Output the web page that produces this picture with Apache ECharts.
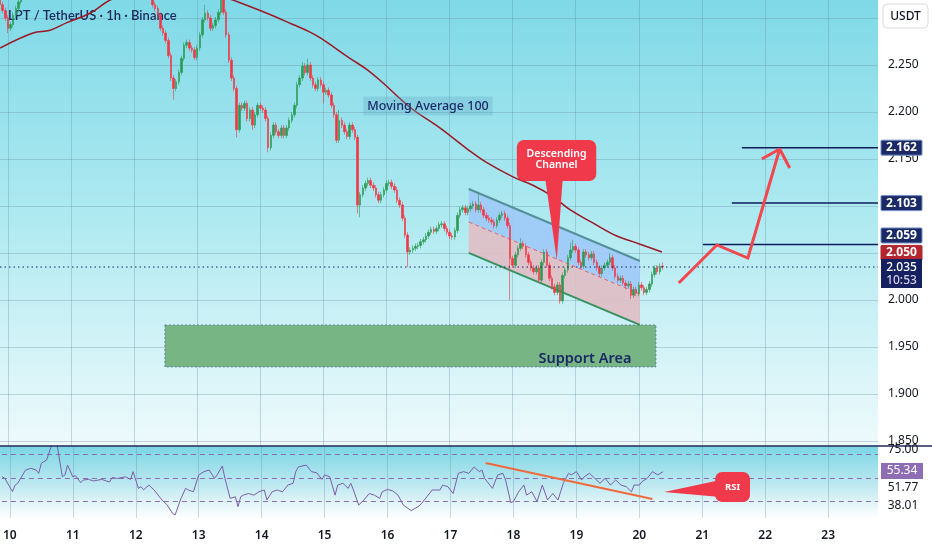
<!DOCTYPE html>
<html><head><meta charset="utf-8">
<script src="https://cdn.jsdelivr.net/npm/echarts@6/dist/echarts.min.js"></script>
<style>html,body{margin:0;padding:0;background:#fff}#c{width:932px;height:550px}</style>
</head><body><div id="c"></div>
<script>
// ---- axes ----
const hourMin = -3.04, hourMax = 331;
const priceMin = 1.8446, priceMax = 2.3191;
const rsiMin = 15.96, rsiMax = 77.23;
const dayTicks = [0,24,48,72,96,120,144,168,192,216,240,264,288,312];
const dayLabels = ['10','11','12','13','14','15','16','17','18','19','20','21','22','23'];
const priceTicks = [1.85,1.90,1.95,2.00,2.05,2.10,2.15,2.20,2.25];
const gridPrices = [1.85,1.90,1.95,2.00,2.05,2.10,2.15,2.20,2.25,2.30];
const rsiLevels = [70,50,30];

// ---- candles (1h, first candle at hour -3 of day 10) ----
const firstHour = -3;
const firstOpen = 2.324;
const closes = [
 2.314,2.308,2.300,2.289,2.293,2.303,2.310,2.317,
 2.327,2.335,2.342,2.350,2.362,2.375,2.385,2.392,2.380,2.372,
 2.378,2.386,2.390,2.384,2.376,2.370,2.368,2.372,2.375,2.370,
 2.365,2.360,2.358,2.362,2.366,2.360,2.355,2.352,2.348,2.345,
 2.350,2.354,2.350,2.346,2.342,2.338,2.344,2.348,2.352,2.356,
 2.350,2.344,2.340,2.336,2.340,2.344,2.338,2.332,2.326,2.324,
 2.314,2.310,2.303,2.289,2.284,2.276,2.260,2.236,2.225,2.232,
 2.242,2.257,2.271,2.274,2.268,2.266,2.258,2.268,2.282,2.298,
 2.305,2.300,2.289,2.292,2.298,2.306,2.321,2.306,2.282,2.255,
 2.236,2.225,2.181,2.207,2.204,2.209,2.193,2.202,2.186,2.197,
 2.207,2.204,2.202,2.193,2.162,2.175,2.186,2.179,2.175,2.183,
 2.175,2.183,2.191,2.197,2.207,2.229,2.236,2.249,2.242,2.250,
 2.236,2.229,2.225,2.234,2.229,2.221,2.223,2.218,2.207,2.197,
 2.170,2.191,2.186,2.179,2.174,2.186,2.181,2.173,2.101,2.112,
 2.119,2.124,2.127,2.122,2.119,2.112,2.106,2.112,2.117,2.124,
 2.125,2.121,2.117,2.106,2.101,2.087,2.069,2.051,2.053,2.055,
 2.057,2.058,2.062,2.064,2.068,2.072,2.075,2.073,2.076,2.080,
 2.081,2.076,2.072,2.068,2.067,2.074,2.090,2.096,2.098,2.093,
 2.097,2.100,2.102,2.096,2.101,2.096,2.090,2.087,2.085,2.083,
 2.079,2.085,2.090,2.092,2.087,2.079,2.044,2.037,2.048,2.055,
 2.060,2.057,2.048,2.040,2.034,2.030,2.034,2.021,2.040,2.051,
 2.037,2.023,2.014,2.008,2.016,1.999,2.026,2.032,2.045,2.053,
 2.057,2.053,2.040,2.036,2.051,2.048,2.045,2.049,2.040,2.034,
 2.028,2.034,2.037,2.040,2.045,2.034,2.025,2.021,2.023,2.018,
 2.015,2.017,2.005,2.011,2.007,2.016,2.013,2.008,2.011,2.017,
 2.027,2.034,2.030,2.036,2.035
];
const wickSize = 0.003;
const highHours = [75,112,114,126,179,195,214,215,229,249];
const highValues = [2.314,2.253,2.257,2.202,2.115,2.066,2.061,2.064,2.050,2.040];
const lowHours = [0,63,87,93,99,120,133,134,152,191,210,237];
const lowValues = [2.284,2.213,2.173,2.181,2.157,2.209,2.092,2.088,2.035,2.000,1.996,2.001];

// ---- moving average 100 ----
const maHours = [-3,9.5,16,22.4,31.2,38.8,50,62,74,85.6,98.5,108.4,114.9,118.7,130.1,136.6,142.6,152.9,164.3,175,182.2,192.1,199.7,207.3,213.8,222.5,231.6,237.7,248.8];
const maValues = [2.268,2.284,2.287,2.295,2.305,2.319,2.331,2.336,2.331,2.319,2.305,2.293,2.285,2.279,2.257,2.245,2.231,2.205,2.183,2.160,2.146,2.131,2.122,2.110,2.096,2.082,2.068,2.062,2.051];

// ---- RSI ----
const rsiHours = [
 -3,-2,1,2,3,6,8,10,11,12,
 14,16,18,20,21,22,24,25,27,28,
 30,32,35,38,39,41,44,46,47,49,
 50,51,53,55,58,60,62,63,65,67,
 68,70,72,74,76,78,79,81,82,84,
 86,87,88,89,91,93,95,97,98,100,
 102,104,106,108,109,110,113,115,117,119,
 120,122,124,125,127,129,130,131,133,135,
 137,139,141,142,144,146,148,150,153,156,
 157,159,161,164,165,167,169,171,173,175,
 177,179,180,181,184,186,188,189,191,192,
 194,196,197,199,201,203,205,207,209,211,
 213,214,216,218,219,221,223,225,227,229,
 231,233,235,237,238,240,241,243,245,247,
 249];
const rsiValues = [
 51,50,38.4,44,45.5,56.8,58.2,56.8,54,62.5,
 65.3,78.5,78.5,51.1,52.6,61,51,52,46,48.3,
 48.8,47.5,48.8,46.6,50.4,49.6,51,48.8,55.4,41.2,
 42.6,40,44,39.8,31.3,27,20,18.5,31.3,41.2,
 39.8,38.3,52.6,55.4,56.8,49.7,52.6,60.2,49.7,32.7,
 34,25.6,34,35.4,36.8,35.4,38.3,39.8,31.3,38.3,
 39.8,38.3,44,45.5,55.4,59.4,61,55.4,54.4,48.8,
 52.6,51,35.4,44,45.5,41.2,45.5,39.8,27,31.3,
 36.8,35.4,32.7,38.3,40.3,39,35.4,27,22.2,26.1,
 28.4,34,39.8,39.8,44,42.6,36.8,54,55.4,54,
 59.4,55.4,56.8,49.7,41.2,52.6,54,48.3,29,30,
 38.3,44,35.4,38.3,29.9,44,31.3,36.8,31.3,45.5,
 54,52.6,55.4,48.3,51,54,49.7,45.5,49.7,44,
 48.3,44,42.6,38.3,44,44,46.9,49.7,55.4,52.6,
 55.34];

// ---- drawings ----
const chanHours = [175.3, 240.4];
const chanTop = [2.1180, 2.0414];
const chanMid = [2.0829, 2.0063];
const chanBot = [2.0500, 1.9734];
const supportHours = [59.7, 246.5];
const supportPrices = [1.9287, 1.9734];
const tgtLevels = [2.162, 2.103, 2.059];
const tgtTagShift = [0, 0, -9];
const tgtStartHours = [279.2, 275.4, 264.4];
const arrowHours = [255.2, 269.7, 281.5, 293.6];
const arrowPrices = [2.018, 2.0585, 2.0446, 2.1606];
const headHours = [286.8, 293.6, 297.4];
const headPrices = [2.150, 2.1606, 2.1404];
const rsiTrendHours = [181.4, 245];
const rsiTrendValues = [62.8, 32.1];
const lastPrice = 2.035, maLast = 2.050;
const descBox = [193.6, 2.1702, 223.8, 2.1265];
const descPointer = [204.3, 211.1, 208.8, 2.0425];
const rsiBox = [268.9, 55.1, 282.2, 29.6];
const rsiPointer = [249.5, 38.1, 48.3, 33.8];
const maLabelAt = [159.8, 2.2063];
const supportLabelAt = [219.5, 1.937];

// ---- build ----
const candles = closes.map((c, i) => {
  const h = firstHour + i;
  const o = i === 0 ? firstOpen : closes[i - 1];
  let hi = Math.max(o, c) + wickSize, lo = Math.min(o, c) - wickSize;
  const a = highHours.indexOf(h); if (a >= 0) hi = highValues[a];
  const b = lowHours.indexOf(h); if (b >= 0) lo = lowValues[b];
  return [h, o, c, lo, hi];
});
const FONT = '"Noto Sans", "DejaVu Sans", sans-serif';
const gridLine = { color: 'rgba(100,140,160,0.33)', width: 1, type: 'solid' };

const chart = echarts.init(document.getElementById('c'), null, { renderer: 'canvas' });
const series = [
  {
    type: 'custom', xAxisIndex: 0, yAxisIndex: 0, z: 2, silent: true,
    data: [[chanHours[0], chanMid[0]]],
    renderItem: (params, api) => {
      const p = (h, v) => api.coord([h, v]);
      const tl = p(chanHours[0], chanTop[0]), tr = p(chanHours[1], chanTop[1]);
      const ml = p(chanHours[0], chanMid[0]), mr = p(chanHours[1], chanMid[1]);
      const bl = p(chanHours[0], chanBot[0]), br = p(chanHours[1], chanBot[1]);
      const s0 = p(supportHours[0], supportPrices[1]), s1 = p(supportHours[1], supportPrices[0]);
      return { type: 'group', children: [
        { type: 'rect', shape: { x: s0[0], y: s0[1], width: s1[0] - s0[0], height: s1[1] - s0[1] },
          style: { fill: '#78b584', stroke: 'rgba(70,100,170,0.7)', lineWidth: 1, lineDash: [2, 2] } },
        { type: 'polygon', shape: { points: [tl, tr, mr, ml] }, style: { fill: 'rgba(158,202,248,0.92)' } },
        { type: 'polygon', shape: { points: [ml, mr, br, bl] }, style: { fill: 'rgba(224,190,198,0.92)' } },
        { type: 'line', shape: { x1: tl[0], y1: tl[1], x2: tr[0], y2: tr[1] }, style: { stroke: '#55909b', lineWidth: 2 } },
        { type: 'line', shape: { x1: ml[0], y1: ml[1], x2: mr[0], y2: mr[1] }, style: { stroke: '#e8606a', lineWidth: 1, lineDash: [4, 3] } },
        { type: 'line', shape: { x1: bl[0], y1: bl[1], x2: br[0], y2: br[1] }, style: { stroke: '#3a9160', lineWidth: 2 } }
      ]};
    }
  },
  {
    type: 'candlestick', xAxisIndex: 0, yAxisIndex: 0, z: 3, clip: true,
    barWidth: 2, encode: { x: 0, y: [1, 2, 3, 4] }, data: candles,
    itemStyle: { color: '#2b9a52', color0: '#f23645', borderColor: '#2b9a52', borderColor0: '#f23645', borderWidth: 0.6 },
    markLine: { z: 1, silent: true, symbol: ['none', 'none'], label: { show: false }, lineStyle: gridLine, animation: false,
      data: [...gridPrices.map(v => ({ yAxis: v })), ...dayTicks.map(d => ({ xAxis: d }))] }
  },
  {
    type: 'line', xAxisIndex: 0, yAxisIndex: 0, z: 4, symbol: 'none', smooth: 0.4, clip: true, silent: true,
    data: maHours.map((h, i) => [h, maValues[i]]), lineStyle: { color: '#9a1a26', width: 1.5 }
  },
  {
    type: 'line', xAxisIndex: 0, yAxisIndex: 0, z: 4, symbol: 'none', silent: true,
    data: [[hourMin, lastPrice], [hourMax, lastPrice]], lineStyle: { color: '#1b2a66', width: 1, type: [1.5, 3] }
  },
  ...tgtLevels.map((v, i) => ({
    type: 'line', xAxisIndex: 0, yAxisIndex: 0, z: 5, symbol: 'none', silent: true,
    data: [[tgtStartHours[i], v], [hourMax, v]], lineStyle: { color: '#0f1d5c', width: 1.5 }
  })),
  {
    type: 'line', xAxisIndex: 0, yAxisIndex: 0, z: 5, symbol: 'none', silent: true,
    data: arrowHours.map((h, i) => [h, arrowPrices[i]]), lineStyle: { color: '#f2474e', width: 3, join: 'miter' }
  },
  {
    type: 'line', xAxisIndex: 0, yAxisIndex: 0, z: 5, symbol: 'none', silent: true,
    data: headHours.map((h, i) => [h, headPrices[i]]), lineStyle: { color: '#f2474e', width: 3 }
  },
  {
    type: 'line', xAxisIndex: 1, yAxisIndex: 1, z: 3, symbol: 'none', clip: true, silent: true,
    data: rsiHours.map((h, i) => [h, rsiValues[i]]), lineStyle: { color: '#7c5fa6', width: 1 },
    markLine: { z: 1, silent: true, symbol: ['none', 'none'], label: { show: false }, animation: false,
      data: [...dayTicks.map(d => ({ xAxis: d, lineStyle: gridLine })),
             ...rsiLevels.map(v => ({ yAxis: v, lineStyle: { color: '#8a6db2', width: 1, type: [5, 4] } }))] }
  },
  {
    type: 'line', xAxisIndex: 1, yAxisIndex: 1, z: 5, symbol: 'none', silent: true,
    data: rsiTrendHours.map((h, i) => [h, rsiTrendValues[i]]), lineStyle: { color: '#f06a3c', width: 2 }
  }
];

chart.setOption({
  animation: false,
  backgroundColor: '#ffffff',
  grid: [
    { left: 0, top: 0, width: 878, height: 446 },
    { left: 0, top: 446, width: 878, height: 72 }
  ],
  xAxis: [
    { type: 'value', gridIndex: 0, min: hourMin, max: hourMax, show: false },
    { type: 'value', gridIndex: 1, min: hourMin, max: hourMax,
      axisLine: { show: false }, axisTick: { show: false }, splitLine: { show: false },
      axisLabel: { customValues: dayTicks, formatter: v => dayLabels[dayTicks.indexOf(Math.round(v))],
        margin: 12, color: '#131722', fontSize: 12, fontWeight: 600, fontFamily: FONT } }
  ],
  yAxis: [
    { type: 'value', gridIndex: 0, position: 'right', min: priceMin, max: priceMax,
      axisLine: { show: false }, axisTick: { show: false }, splitLine: { show: false },
      axisLabel: { customValues: priceTicks, formatter: v => v.toFixed(3), margin: 10, color: '#131722', fontSize: 12, fontFamily: FONT } },
    { type: 'value', gridIndex: 1, position: 'right', min: rsiMin, max: rsiMax, show: false }
  ],
  series: series
});

// ---- annotations positioned from data coordinates ----
const P = (h, v) => chart.convertToPixel({ gridIndex: 0 }, [h, v]);
const R = (h, v) => chart.convertToPixel({ gridIndex: 1 }, [h, v]);
const txt = (x, y, text, fill, font, align, extra) => ({
  type: 'text', x: x, y: y, z: 100,
  style: Object.assign({ text: text, fill: fill, font: font, align: align || 'center', verticalAlign: 'middle',
    textAlign: align || 'center', textVerticalAlign: 'middle' }, extra || {})
});
const g = [];
g.push({ type: 'rect', z: -10, shape: { x: 0, y: 0, width: 878, height: 446 },
  style: { fill: new echarts.graphic.LinearGradient(0, 0, 0, 1, [
    { offset: 0, color: '#7fd9e7' }, { offset: 0.5, color: '#b0eaf1' }, { offset: 1, color: '#eefafc' }]) } });
g.push({ type: 'rect', z: -10, shape: { x: 0, y: 446, width: 878, height: 72 },
  style: { fill: new echarts.graphic.LinearGradient(0, 0, 0, 1, [
    { offset: 0, color: '#7ad6e4' }, { offset: 0.55, color: '#bfe9f1' }, { offset: 1, color: '#ffffff' }]) } });
g.push({ type: 'line', z: 50, shape: { x1: 0, y1: 446, x2: 932, y2: 446 }, style: { stroke: '#23285a', lineWidth: 1.5 } });

// title
g.push(Object.assign(txt(8, 16, 'LPT / TetherUS · 1h · Binance', '#1c2a5c', '600 13px Lato, ' + FONT, 'left'), { z: 2 }));

// MA label
const mal = P(maLabelAt[0], maLabelAt[1]);
g.push(txt(mal[0], mal[1], 'Moving Average 100', '#1b2a66', '500 12.5px ' + FONT, 'center',
  { backgroundColor: 'rgba(95,160,195,0.28)', padding: [3, 4] }));
// Support label
const sl = P(supportLabelAt[0], supportLabelAt[1]);
g.push(txt(sl[0], sl[1], 'Support Area', '#1b2a66', '600 14.5px ' + FONT, 'center'));

// Descending channel callout
const d0 = P(descBox[0], descBox[1]), d1 = P(descBox[2], descBox[3]);
const pb0 = P(descPointer[0], descBox[3]), pb1 = P(descPointer[1], descBox[3]), pt = P(descPointer[2], descPointer[3]);
g.push({ type: 'polygon', z: 90, shape: { points: [[pb0[0], pb0[1] - 4], [pb1[0], pb1[1] - 4], pt] }, style: { fill: '#f03a4c' } });
g.push({ type: 'rect', z: 90, shape: { x: d0[0], y: d0[1], width: d1[0] - d0[0], height: d1[1] - d0[1], r: 7 }, style: { fill: '#f03a4c' } });
g.push(txt((d0[0] + d1[0]) / 2, d0[1] + 20, 'Descending\nChannel', '#ffffff', '600 10.5px ' + FONT, 'center', { lineHeight: 11 }));

// RSI callout
const r0 = R(rsiBox[0], rsiBox[1]), r1 = R(rsiBox[2], rsiBox[3]);
const rt = R(rsiPointer[0], rsiPointer[1]), rb0 = R(rsiBox[0] + 2, rsiPointer[2]), rb1 = R(rsiBox[0] + 2, rsiPointer[3]);
g.push({ type: 'polygon', z: 90, shape: { points: [rt, rb0, rb1] }, style: { fill: '#f03a4c' } });
g.push({ type: 'rect', z: 90, shape: { x: r0[0], y: r0[1], width: r1[0] - r0[0], height: r1[1] - r0[1], r: 7 }, style: { fill: '#f03a4c' } });
g.push(txt((r0[0] + r1[0]) / 2, (r0[1] + r1[1]) / 2, 'RSI', '#ffffff', '700 9.5px ' + FONT, 'center'));

// price scale tags
const tag = (v, shift, label, fill, stroke) => {
  const y = P(0, v)[1] + shift;
  g.push({ type: 'rect', z: 100, shape: { x: 881, y: y - 7.5, width: 41, height: 15, r: 1 }, style: { fill: fill, stroke: stroke, lineWidth: 1 } });
  g.push(txt(901.5, y, label, '#ffffff', '700 12px ' + FONT, 'center'));
};
tgtLevels.forEach((v, i) => tag(v, tgtTagShift[i], v.toFixed(3), '#1b2a66', '#6f8fc8'));
tag(maLast, 0, maLast.toFixed(3), '#b3262f', '#b3262f');
const ly = P(0, lastPrice)[1];
g.push({ type: 'rect', z: 100, shape: { x: 881, y: ly - 8, width: 41, height: 29 }, style: { fill: '#14205f' } });
g.push(txt(901.5, ly + 0.5, lastPrice.toFixed(3), '#ffffff', '500 12px ' + FONT, 'center'));
g.push(txt(901.5, ly + 14, '10:53', '#d4cde6', '500 12px ' + FONT, 'center'));

// USDT box
g.push({ type: 'rect', z: 100, shape: { x: 883, y: 4, width: 45, height: 24, r: 4 }, style: { fill: '#ffffff', stroke: '#d6dae2', lineWidth: 1 } });
g.push(txt(905.5, 16.5, 'USDT', '#131722', '500 12px ' + FONT, 'center'));

// RSI scale labels
g.push(txt(903, 450, '75.00', '#131722', '12px ' + FONT, 'center'));
g.push({ type: 'rect', z: 100, shape: { x: 881, y: 463, width: 42, height: 16 }, style: { fill: '#8d6db4' } });
g.push(txt(902, 471, '55.34', '#ffffff', '12px ' + FONT, 'center'));
g.push(txt(903, 488, '51.77', '#131722', '12px ' + FONT, 'center'));
g.push(txt(903, 506, '38.01', '#131722', '12px ' + FONT, 'center'));

chart.setOption({ graphic: { elements: g } });
</script>
</body></html>
